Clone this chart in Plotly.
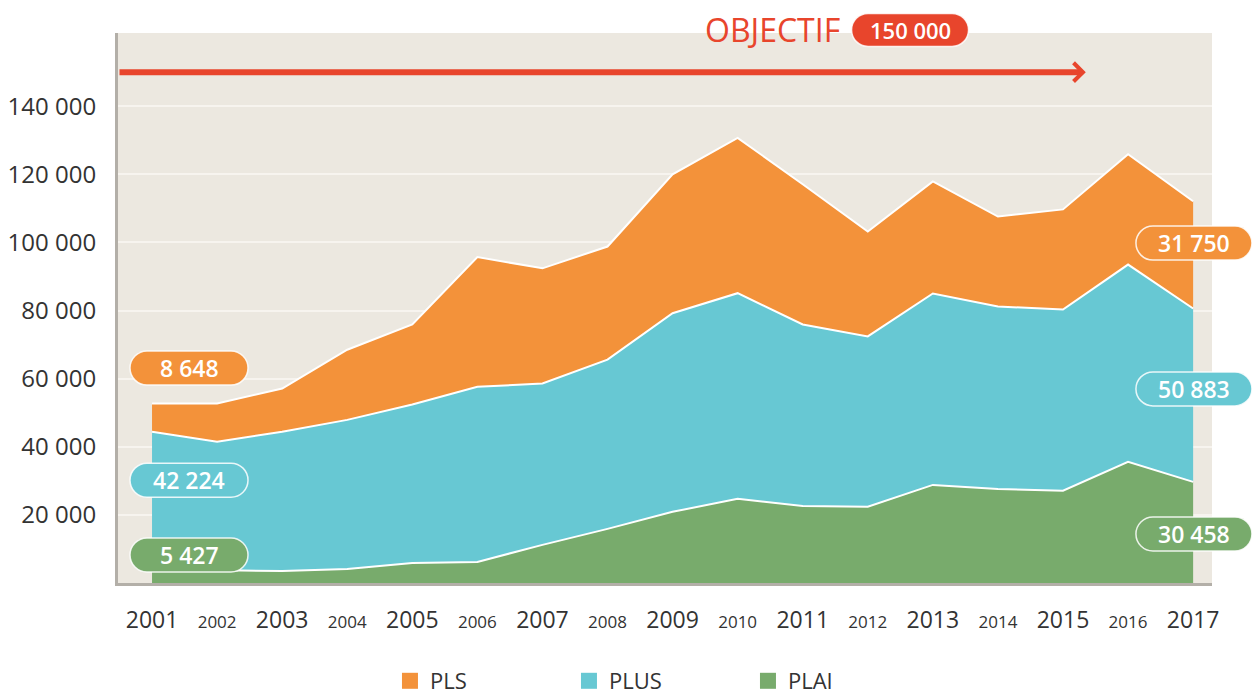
import plotly.graph_objects as go

# ---------------- data ----------------
years = list(range(2001, 2018))
plai = [4100, 3800, 3500, 4100, 5900, 6200, 11200, 15900, 20900, 24700,
        22600, 22400, 28800, 27600, 27100, 35600, 29700]
plus = [40300, 37700, 40900, 43800, 46500, 51400, 47400, 49700, 58300, 60400,
        53300, 50000, 56200, 53600, 53200, 57900, 50900]
pls = [8300, 11200, 12700, 20600, 23500, 38100, 33800, 33200, 40800, 45600,
       41200, 30800, 32900, 26400, 29400, 32400, 31500]

series_names = ["PLAI", "PLUS", "PLS"]
first_labels = ["5 427", "42 224", "8 648"]
last_labels = ["30 458", "50 883", "31 750"]
first_label_y = [8200, 30200, 63100]
last_label_y = [14400, 57000, 99800]

ytick_vals = [20000, 40000, 60000, 80000, 100000, 120000, 140000]
ytick_text = ["20 000", "40 000", "60 000", "80 000", "100 000", "120 000", "140 000"]

objectif_value = 150000
objectif_text = "150 000"
objectif_end_year = 2015.35

# ---------------- style ----------------
C_PLAI = "#78AB6C"
C_PLUS = "#67C8D3"
C_PLS = "#F3923A"
C_RED = "#E8452C"
colors = [C_PLAI, C_PLUS, C_PLS]
BG = "#ECE8E0"
X_MIN, X_MAX = 2000.477, 2017.29
FONT = "Open Sans, Noto Sans, sans-serif"
NARROW = "Liberation Sans Narrow, Open Sans, sans-serif"

fig = go.Figure()

for name, vals, col in zip(series_names, [plai, plus, pls], colors):
    fig.add_trace(go.Scatter(
        x=years, y=vals, name=name, stackgroup="one", mode="lines",
        line=dict(color="white", width=2), fillcolor=col, showlegend=False,
        hoverinfo="x+y+name"))

# legend-only entries (PLS, PLUS, PLAI)
for name, col in [("PLS", C_PLS), ("PLUS", C_PLUS), ("PLAI", C_PLAI)]:
    fig.add_trace(go.Scatter(
        x=[None], y=[None], mode="markers", name=name,
        marker=dict(symbol="square", size=18, color=col)))

# x tick labels: odd years large, even years small
xtext = []
for y in years:
    if y % 2 == 1:
        xtext.append(str(y))
    else:
        xtext.append(f"<span style='font-size:17px'>{y}</span>")


def pill_path(w, h):
    r = h / 2
    k = 0.5523 * r
    a = w / 2 - r
    hw = w / 2
    return (f"M{-a},{-r} L{a},{-r} C{a + k},{-r} {hw},{-k} {hw},0 "
            f"C{hw},{k} {a + k},{r} {a},{r} L{-a},{r} "
            f"C{-a - k},{r} {-hw},{k} {-hw},0 C{-hw},{-k} {-a - k},{-r} {-a},{-r} Z")


def add_pill(xp, yv, yref, text, color, w=118, h=34, size=23):
    fig.add_shape(type="path", xref="paper", yref=yref,
                  xsizemode="pixel", ysizemode="pixel",
                  xanchor=xp, yanchor=yv, path=pill_path(w, h),
                  fillcolor=color, line=dict(color="rgba(255,255,255,0.85)", width=1.5),
                  layer="above")
    fig.add_annotation(x=xp, y=yv, xref="paper", yref=yref, text=text,
                       showarrow=False, font=dict(family=FONT, size=size, color="white",
                                                   weight=600),
                       xanchor="center", yanchor="middle")


for lab, yv, col in zip(first_labels, first_label_y, colors):
    add_pill(0.0649, yv, "y", lab, col)
for lab, yv, col in zip(last_labels, last_label_y, colors):
    add_pill(0.9835, yv, "y", lab, col, w=116)

# objective arrow
fig.add_annotation(x=objectif_end_year, y=objectif_value, ax=X_MIN, ay=objectif_value,
                   xref="x", yref="y", axref="x", ayref="y", text="",
                   showarrow=True, arrowhead=4, arrowsize=0.6, arrowwidth=6,
                   arrowcolor=C_RED, standoff=0, startstandoff=0)

fig.add_annotation(x=0.598, y=1.0055, xref="paper", yref="paper", text="OBJECTIF",
                   showarrow=False, font=dict(family=NARROW, size=32, color=C_RED),
                   xanchor="center", yanchor="middle")
add_pill(0.724, 1.0055, "paper", objectif_text, C_RED, w=117, h=33, size=22)

fig.update_layout(
    width=1253, height=698,
    margin=dict(l=118, r=41, t=33, b=115, autoexpand=False),
    paper_bgcolor="white", plot_bgcolor=BG,
    font=dict(family=FONT, color="#333333"),
    showlegend=True,
    legend=dict(orientation="h", x=0.2486, xanchor="left", y=-0.14, yanchor="top",
                font=dict(family=NARROW, size=22, color="#333333"),
                entrywidth=134, entrywidthmode="pixels", traceorder="normal",
                bgcolor="rgba(0,0,0,0)"),
    xaxis=dict(range=[X_MIN, X_MAX], tickvals=years, ticktext=xtext,
               showgrid=False, zeroline=False, showline=True,
               linecolor="#B3AFA8", linewidth=3, ticks="",
               ticklabelstandoff=14, automargin=False,
               tickfont=dict(family=NARROW, size=23, color="#333333")),
    yaxis=dict(range=[0, 161500], tickvals=ytick_vals, ticktext=ytick_text,
               showgrid=True, gridcolor="#F7F4EF", gridwidth=2, zeroline=False,
               showline=True, linecolor="#B3AFA8", linewidth=3, ticks="",
               ticklabelstandoff=14, automargin=False,
               tickfont=dict(family=FONT, size=24, color="#333333")),
)

fig.write_html("out.html", config={"displayModeBar": False},
               post_script="document.body.style.margin='0';document.body.style.overflow='hidden';")
